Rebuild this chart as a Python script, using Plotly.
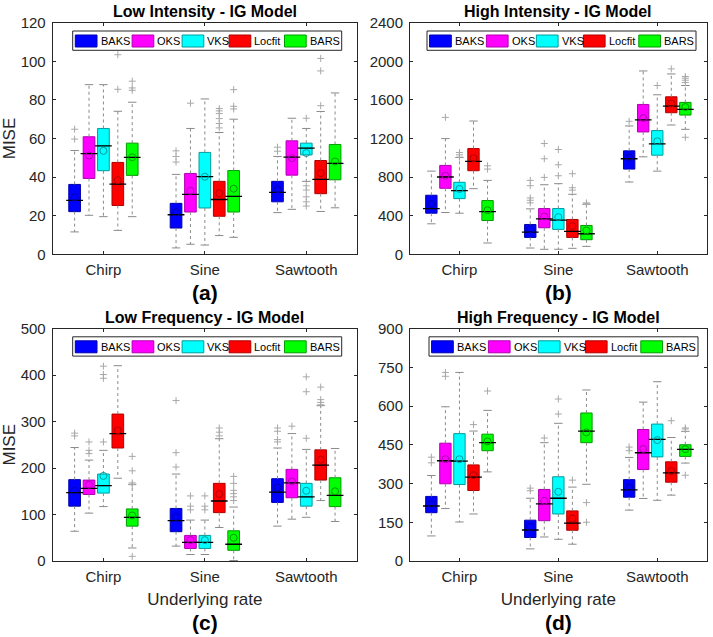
import plotly.graph_objects as go

W, H = 713, 637
FONT = "Liberation Sans, Arial, Helvetica, sans-serif"
TXT = "#262626"

METHODS = ["BAKS", "OKS", "VKS", "Locfit", "BARS"]
CATEGORIES = ["Chirp", "Sine", "Sawtooth"]
FILL = ["#0000FF", "#FF00FF", "#00FFFF", "#FF0000", "#00FF00"]
EDGE = ["#0000B0", "#B000B0", "#009C9C", "#B00000", "#009C00"]
PANEL_TITLES = ["Low Intensity - IG Model", "High Intensity - IG Model",
                "Low Frequency - IG Model", "High Frequency - IG Model"]
PANEL_LABELS = ["(a)", "(b)", "(c)", "(d)"]
Y_TICKS = [list(range(0, 121, 20)), list(range(0, 2401, 400)),
           list(range(0, 501, 100)), list(range(0, 901, 150))]

# rows = methods (BAKS, OKS, VKS, Locfit, BARS); cols = categories (Chirp, Sine, Sawtooth)
# ---- (a) Low Intensity ----
LI_LO = [[11.6, 3.3, 21.6], [20.2, 5.2, 23.3], [19.5, 4.8, 37.8], [12.4, 9.7, 22.2], [19.5, 8.8, 24.1]]
LI_Q1 = [[22.1, 13.6, 27.2], [39.3, 21.9, 41.0], [43.3, 24.0, 51.5], [25.3, 19.7, 31.4], [40.9, 21.9, 38.6]]
LI_MED = [[27.9, 20.5, 32.1], [52.2, 31.0, 50.3], [56.2, 40.2, 55.0], [36.4, 28.4, 38.8], [50.2, 30.0, 47.1]]
LI_Q3 = [[36.2, 26.4, 37.8], [60.9, 41.9, 58.8], [65.2, 52.8, 57.6], [47.6, 37.8, 48.6], [57.6, 43.4, 56.9]]
LI_HI = [[53.8, 41.4, 50.7], [87.9, 65.2, 70.5], [87.9, 80.5, 65.2], [74.1, 63.1, 74.0], [78.8, 70.0, 83.6]]
LI_MEAN = [[29.5, 21.7, 33.6], [51.2, 32.9, 49.8], [53.6, 40.2, 52.5], [38.4, 31.6, 42.1], [50.3, 34.0, 48.1]]
LI_OUT = [[[59.7, 64.8], [47.8, 50.7, 53.6], [53.4, 55.5]],
          [[], [78.3], []],
          [[], [], [70.5, 35.5, 33.3, 29.8, 27.2, 25.0]],
          [[85.5, 103.4], [65.5, 67.8, 70.3, 72.9, 74.3, 75.5], [77.0, 95.0, 101.5]],
          [[85.0, 86.2, 89.7], [75.3, 76.7, 85.3], []]]

# ---- (b) High Intensity ----
HI_LO = [[316, 65, 749], [433, 52, 1010], [426, 52, 862], [680, 62, 1340], [117, 82, 1295]]
HI_Q1 = [[426, 175, 883], [684, 275, 1268], [577, 258, 1027], [866, 175, 1467], [350, 151, 1443]]
HI_MED = [[474, 230, 990], [801, 368, 1392], [660, 354, 1144], [962, 237, 1536], [443, 213, 1502]]
HI_Q3 = [[612, 309, 1072], [921, 474, 1553], [746, 474, 1282], [1096, 361, 1632], [557, 299, 1574]]
HI_HI = [[862, 471, 1330], [1199, 721, 1900], [1003, 732, 1653], [1381, 622, 1869], [766, 519, 1749]]
HI_MEAN = [[522, 261, 1003], [814, 392, 1412], [677, 385, 1172], [996, 292, 1563], [457, 247, 1526]]
HI_OUT = [[[], [533, 560, 584, 711, 766], [1378]],
          [[1419], [797, 990, 1148], []],
          [[1007, 1031, 1055], [814, 928, 1086], [1749]],
          [[], [665, 690, 835], [1921]],
          [[883, 917], [522, 533], [1213, 1780, 1804, 1825, 1842]]]

# ---- (c) Low Frequency ----
LF_LO = [[64, 32, 75], [103, 14, 90], [117, 14, 94], [178, 72, 130], [28, 1, 85]]
LF_Q1 = [[118, 63, 126], [143, 27, 136], [146, 27, 118], [243, 104, 174], [75, 23, 117]]
LF_MED = [[147, 87, 148], [156, 40, 168], [162, 40, 138], [274, 129, 206], [94, 36, 141]]
LF_Q3 = [[175, 113, 177], [174, 55, 197], [187, 55, 167], [316, 167, 239], [112, 65, 179]]
LF_HI = [[244, 187, 243], [217, 88, 274], [238, 88, 240], [420, 263, 334], [165, 116, 242]]
LF_MEAN = [[151, 95, 158], [164, 45, 171], [183, 45, 151], [281, 144, 218], [98, 50, 150]]
LF_OUT = [[[269, 275], [202, 233, 345], [256, 261, 279, 286]],
          [[231, 238, 256], [110, 118, 140], [290]],
          [[256, 393, 401, 419], [110, 118, 140], [264, 364, 396]],
          [[], [269, 277, 286], [336, 341, 347, 374]],
          [[10, 164, 168, 194, 225], [130, 138, 145, 152, 167, 182], []]]

# ---- (d) High Frequency ----
HF_LO = [[97, 47, 197], [203, 93, 242], [151, 84, 235], [182, 65, 255], [345, 297, 379]]
HF_Q1 = [[187, 91, 247], [299, 156, 354], [296, 182, 403], [273, 119, 305], [427, 458, 405]]
HF_MED = [[213, 120, 275], [388, 221, 419], [387, 243, 471], [325, 147, 341], [458, 503, 432]]
HF_Q3 = [[250, 158, 315], [456, 277, 509], [493, 326, 530], [372, 194, 384], [491, 573, 450]]
HF_HI = [[331, 243, 401], [597, 458, 615], [730, 533, 694], [503, 286, 478], [583, 662, 502]]
HF_MEAN = [[221, 132, 284], [394, 233, 434], [394, 268, 468], [332, 164, 348], [463, 498, 433]]
HF_OUT = [[[380, 402], [272, 282], [427, 441]],
          [[715, 730], [476], []],
          [[], [569, 627], []],
          [[528], [313], [543]],
          [[658], [150, 226], [332, 511, 515]]]

PANELS = [
    (LI_LO, LI_Q1, LI_MED, LI_Q3, LI_HI, LI_MEAN, LI_OUT),
    (HI_LO, HI_Q1, HI_MED, HI_Q3, HI_HI, HI_MEAN, HI_OUT),
    (LF_LO, LF_Q1, LF_MED, LF_Q3, LF_HI, LF_MEAN, LF_OUT),
    (HF_LO, HF_Q1, HF_MED, HF_Q3, HF_HI, HF_MEAN, HF_OUT),
]

# ---- layout geometry (pixels) ----
AX_PX = [  # left, right, top, bottom
    (52.7, 357.0, 22.7, 254.3),
    (410.0, 706.7, 22.7, 254.3),
    (52.7, 357.0, 328.5, 561.0),
    (410.0, 706.7, 328.5, 561.0),
]
LEG_DX = [20, 17, 20, 19]
OFFSETS = [-0.284, -0.142, 0.0, 0.142, 0.284]
BOX_W = 0.115
WHISK = "#8a8a8a"
OUTC = "#a8a8a8"

fig = go.Figure()
layout = dict(width=W, height=H, margin=dict(l=0, r=0, t=0, b=0),
              paper_bgcolor="white", plot_bgcolor="white", showlegend=False,
              font=dict(family=FONT, color=TXT))
shapes, annotations = [], []

for p, (LO, Q1, MED, Q3, HI, MEAN, OUT) in enumerate(PANELS):
    k = "" if p == 0 else str(p + 1)
    xa, ya = "x" + k, "y" + k
    for m in range(len(METHODS)):
        xs = [c + 1 + OFFSETS[m] for c in range(len(CATEGORIES))]
        # whiskers
        wx, wy = [], []
        for c in range(len(CATEGORIES)):
            wx += [xs[c], xs[c], None, xs[c], xs[c], None]
            wy += [Q3[m][c], HI[m][c], None, Q1[m][c], LO[m][c], None]
        fig.add_trace(go.Scatter(x=wx, y=wy, mode="lines", xaxis=xa, yaxis=ya,
                                 line=dict(color=WHISK, width=1, dash="dot"), hoverinfo="skip"))
        fig.add_trace(go.Scatter(x=xs + xs, y=HI[m] + LO[m], mode="markers", xaxis=xa, yaxis=ya,
                                 marker=dict(symbol="line-ew", size=6, line=dict(color=WHISK, width=1)),
                                 hoverinfo="skip"))
        # outliers
        ox, oy = [], []
        for c in range(len(CATEGORIES)):
            ox += [xs[c]] * len(OUT[m][c])
            oy += OUT[m][c]
        fig.add_trace(go.Scatter(x=ox, y=oy, mode="markers", xaxis=xa, yaxis=ya,
                                 marker=dict(symbol="cross-thin", size=5, line=dict(color=OUTC, width=1)),
                                 hoverinfo="skip"))
        # boxes
        fig.add_trace(go.Box(x=xs, q1=Q1[m], median=MED[m], q3=Q3[m],
                             lowerfence=Q1[m], upperfence=Q3[m], width=BOX_W,
                             fillcolor=FILL[m], line=dict(color=EDGE[m], width=1),
                             whiskerwidth=0, boxpoints=False, name=METHODS[m],
                             xaxis=xa, yaxis=ya))
        # medians
        fig.add_trace(go.Scatter(x=xs, y=MED[m], mode="markers", xaxis=xa, yaxis=ya,
                                 marker=dict(symbol="line-ew", size=12, line=dict(color="black", width=1.3)),
                                 hoverinfo="skip"))
        # means
        fig.add_trace(go.Scatter(x=xs, y=MEAN[m], mode="markers", xaxis=xa, yaxis=ya,
                                 marker=dict(symbol="circle-open", size=7, color=EDGE[m],
                                             line=dict(width=1)),
                                 hoverinfo="skip"))

    L, R, T, B = AX_PX[p]
    axis_common = dict(showline=True, linecolor=TXT, linewidth=1, mirror="ticks",
                       ticks="inside", ticklen=3, tickcolor=TXT, showgrid=False,
                       zeroline=False, automargin=False,
                       tickfont=dict(family=FONT, size=15, color=TXT))
    layout["xaxis" + k] = dict(axis_common, domain=[L / W, R / W], range=[0.5, 3.5],
                               tickvals=[1, 2, 3], ticktext=CATEGORIES, anchor=ya,
                               ticklabelstandoff=2)
    layout["yaxis" + k] = dict(axis_common, domain=[1 - B / H, 1 - T / H],
                               range=[Y_TICKS[p][0], Y_TICKS[p][-1]], tickvals=Y_TICKS[p],
                               anchor=xa, ticklabelstandoff=3)
    if p in (0, 2):
        layout["yaxis" + k]["title"] = dict(text="MISE", font=dict(size=17, color=TXT), standoff=8)
    if p in (2, 3):
        layout["xaxis" + k]["title"] = dict(text="Underlying rate", font=dict(size=17, color=TXT), standoff=9)

    # title + panel label
    annotations.append(dict(text="<b>" + PANEL_TITLES[p] + "</b>", xref=xa + " domain", yref=ya + " domain",
                            x=0.5, y=1, yanchor="bottom", yshift=1, showarrow=False,
                            font=dict(size=16, color="black")))
    annotations.append(dict(text="<b>" + PANEL_LABELS[p] + "</b>", xref=xa + " domain", yref=ya + " domain",
                            x=0.5, y=0, yanchor="middle", yshift=-(38 if p < 2 else 61.5), showarrow=False,
                            font=dict(size=21, color="black")))

    # legend box
    lx0 = L + LEG_DX[p]
    ly0 = T + 8.3
    shapes.append(dict(type="rect", xref="paper", yref="paper", x0=lx0 / W, x1=(lx0 + 269) / W,
                       y0=1 - (ly0 + 19.3) / H, y1=1 - ly0 / H,
                       line=dict(color=TXT, width=1), fillcolor="white", layer="above"))
    sw_off = [2.6, 59.4, 109.4, 156.4, 211.8]
    for m in range(len(METHODS)):
        sx = lx0 + sw_off[m]
        shapes.append(dict(type="rect", xref="paper", yref="paper", x0=sx / W, x1=(sx + 21.7) / W,
                           y0=1 - (ly0 + 16) / H, y1=1 - (ly0 + 4) / H,
                           line=dict(color=EDGE[m], width=1), fillcolor=FILL[m], layer="above"))
        annotations.append(dict(text=METHODS[m], xref="paper", yref="paper", x=(sx + 23.2) / W,
                                y=1 - (ly0 + 10) / H, xanchor="left", yanchor="middle",
                                showarrow=False, font=dict(size=11, color="black")))

layout["shapes"] = shapes
layout["annotations"] = annotations
fig.update_layout(**layout)
fig.write_html("out.html", config={"displayModeBar": False},
               post_script="document.body.style.margin='0px';")
